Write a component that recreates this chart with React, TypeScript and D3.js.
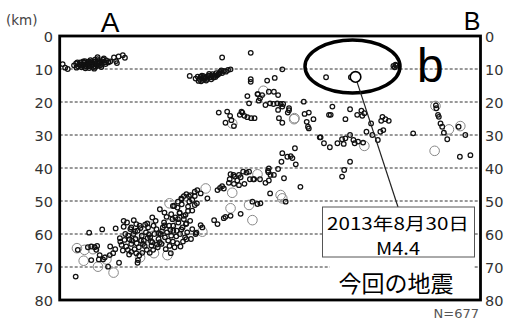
import React from "react";
import * as d3 from "d3";

// depth section A-B, x = distance along profile (0-100), depth in km
const depthTicks = [0, 10, 20, 30, 40, 50, 60, 70, 80];

const smallQuakes: [number, number][] = [
  // shallow cluster near A
  [0.7, 8.5], [1.3, 9.6], [1.9, 10.0],
  [3.4, 8.9], [3.9, 8.3], [4.4, 9.2], [4.9, 8.0], [5.2, 9.5], [5.6, 8.6], [6.0, 7.6], [6.3, 9.1],
  [6.7, 8.2], [7.0, 9.7], [7.3, 7.3], [7.6, 8.7], [8.0, 9.4], [8.3, 7.8], [8.6, 8.5], [9.0, 7.0],
  [9.3, 9.0], [9.6, 7.9], [10.0, 8.4], [10.3, 7.2], [10.7, 8.0], [11.1, 7.4], [11.5, 8.0], [5.8, 8.1],
  [6.5, 8.8], [7.8, 8.1], [8.8, 8.9], [9.8, 8.8], [4.6, 8.6], [7.1, 8.3], [8.2, 9.9], [6.1, 9.8],
  [9.0, 6.4], [10.5, 6.8], [12.0, 7.7], [11.6, 7.9], [5.4, 9.0], [6.9, 9.2], [8.5, 9.3], [9.5, 8.2],
  [4.2, 8.0], [5.0, 8.8], [5.9, 9.3], [6.4, 8.4], [7.4, 9.0], [7.9, 8.6], [8.9, 8.1], [9.2, 7.6],
  [10.1, 7.7], [6.8, 7.8], [7.6, 7.7], [8.4, 7.2], [9.9, 9.4], [10.9, 8.5], [4.0, 9.6], [5.6, 7.7],
  [12.9, 6.5], [13.4, 7.6], [14.0, 6.2], [15.0, 5.8], [15.5, 6.6], [13.6, 8.2],
  // shallow cluster middle
  [30.9, 12.1], [32.3, 12.9], [33.0, 13.6], [33.5, 12.4], [34.0, 13.3], [34.5, 12.6], [35.0, 13.0],
  [35.4, 12.0], [35.9, 12.5], [36.3, 11.6], [36.8, 12.0], [37.2, 11.3], [37.7, 11.6], [38.1, 10.9],
  [38.6, 11.2], [39.0, 10.6], [39.5, 10.8], [40.0, 10.3], [40.6, 10.1], [33.8, 12.0], [34.8, 13.5],
  [36.0, 13.1], [37.0, 12.4], [35.5, 11.5], [38.4, 10.4], [32.8, 12.3], [34.2, 12.2], [36.6, 12.6],
  [33.2, 13.0], [34.4, 13.0], [35.2, 12.4], [36.2, 12.1], [37.4, 11.9], [38.0, 11.3], [33.6, 13.7],
  [38.6, 6.5], [45.4, 5.1], [52.9, 10.1], [49.3, 13.5], [51.1, 12.7], [45.4, 13.1], [45.4, 13.9],
  [63.3, 12.5], [69.2, 12.5], [79.3, 9.1], [79.6, 9.5], [80.0, 9.0], [79.8, 8.7],
  // 15-30 km
  [44.6, 18.2], [47.1, 17.6], [47.0, 17.6], [48.1, 17.9], [47.6, 18.9], [47.3, 19.6], [49.7, 16.9],
  [50.9, 16.9], [51.9, 17.9], [45.0, 20.4], [48.9, 20.9], [50.0, 20.4], [50.8, 20.6], [51.7, 20.4],
  [52.5, 20.6], [52.9, 21.4], [51.9, 22.4], [53.1, 20.6], [54.5, 21.9], [54.5, 22.5], [54.2, 23.2],
  [58.0, 19.9], [58.2, 23.6], [59.2, 23.2], [60.3, 25.2], [58.7, 26.0], [59.0, 27.5], [59.2, 28.0],
  [52.1, 24.9], [52.9, 26.3], [37.8, 23.2], [39.8, 22.9], [40.5, 24.2], [40.8, 25.5], [39.4, 26.3],
  [41.4, 27.3], [42.8, 23.9], [43.4, 23.2], [43.9, 24.2], [44.6, 24.6], [45.5, 24.9], [46.3, 24.9],
  [43.2, 22.9], [64.0, 23.9], [64.8, 21.4], [64.4, 23.9], [69.0, 22.2], [67.9, 25.2], [70.7, 23.9],
  [71.7, 22.6], [71.9, 24.2], [72.4, 23.4], [74.0, 26.5], [72.9, 29.0], [74.3, 30.0], [75.6, 31.5],
  [76.7, 24.5], [76.4, 25.7], [77.4, 25.2], [78.2, 25.7], [76.2, 29.0], [76.9, 28.5], [84.0, 29.5],
  [89.5, 21.9], [89.9, 23.9], [90.1, 24.5], [90.5, 26.5], [90.9, 27.5], [92.1, 31.3], [91.3, 29.3],
  [94.8, 27.5], [96.4, 30.0], [95.1, 36.6], [97.6, 36.1], [89.4, 21.0],
  // 30-45 km
  [61.8, 30.7], [62.0, 30.7], [62.8, 32.5], [64.2, 33.7], [66.0, 32.5], [67.1, 31.3], [67.5, 32.7],
  [67.9, 31.0], [69.0, 30.0], [69.8, 31.5], [70.1, 32.5], [70.9, 32.0], [72.1, 32.3],
  [55.9, 34.0], [52.9, 35.5], [54.1, 36.6], [54.9, 36.4], [55.3, 37.0], [52.7, 38.1], [56.1, 38.9],
  [69.0, 38.1], [67.6, 40.6], [67.1, 42.6], [49.7, 40.1], [49.5, 40.8], [49.6, 41.3], [51.9, 40.3],
  [50.1, 42.1], [50.9, 42.1], [53.3, 43.1], [46.2, 43.4], [47.6, 43.4], [43.6, 41.1], [44.4, 41.4],
  [45.0, 41.1], [42.6, 42.1], [40.6, 41.9], [41.3, 42.1], [41.6, 42.6], [40.4, 43.4], [40.2, 44.5],
  [42.2, 43.8], [41.4, 44.8], [42.6, 45.2], [43.9, 44.8], [43.0, 42.8], [45.2, 43.4], [46.0, 43.4],
  [49.7, 43.8], [48.9, 44.5], [38.6, 45.5], [39.0, 46.2], [37.5, 46.7], [38.1, 46.0], [50.0, 47.7],
  [57.2, 45.7], [45.8, 50.2], [47.0, 50.9], [47.7, 50.7], [53.7, 50.2],
  // 45-60 km
  [32.7, 46.7], [32.1, 48.5], [31.1, 48.2], [35.1, 49.2], [33.5, 47.7], [36.7, 55.8], [37.5, 57.0],
  [39.0, 55.2], [39.4, 54.8], [40.6, 54.5], [43.0, 53.9], [33.5, 57.3], [33.9, 58.0], [32.3, 60.0],
  [31.5, 52.9], [32.1, 51.2], [29.9, 54.2], [26.4, 65.8],
  [28.0, 52.0], [28.5, 53.5], [29.0, 51.0], [29.5, 55.5], [30.0, 57.0], [30.5, 53.0], [31.0, 56.0],
  [31.5, 58.5], [28.2, 56.5], [29.2, 58.0], [30.3, 59.5], [27.5, 55.0], [27.0, 57.5], [28.6, 60.0],
  [29.8, 61.0], [31.2, 61.5], [27.8, 59.0], [26.5, 54.0], [30.8, 50.2], [29.0, 49.5], [27.2, 51.5],
  [23.8, 52.5], [24.9, 53.5], [26.9, 51.5], [28.1, 50.2], [28.9, 49.2], [29.5, 48.5], [30.1, 47.9],
  [30.7, 48.5], [31.5, 49.7], [32.1, 47.2], [32.6, 50.7], [30.5, 51.7], [28.5, 53.7], [29.5, 54.5],
  [28.1, 55.5], [30.1, 56.8], [32.5, 59.6],
  // deep band near A
  [3.8, 72.9], [4.3, 64.8], [6.7, 64.0], [7.5, 63.8], [8.7, 64.8], [8.3, 64.0], [8.9, 63.6],
  [7.5, 67.9], [9.3, 67.7], [10.3, 67.7], [10.7, 67.1], [11.9, 66.4], [12.7, 65.8], [11.5, 69.9],
  [14.1, 68.7], [9.5, 66.4], [7.0, 59.6], [10.1, 58.6], [13.3, 58.3], [15.2, 56.0], [15.2, 57.8],
  [17.6, 55.8], [17.0, 58.0], [18.2, 57.0], [18.6, 67.9], [18.5, 68.7],
  [14.3, 61.3], [14.4, 62.3], [14.7, 63.3], [15.4, 61.8], [15.8, 63.8], [16.6, 61.6], [17.0, 63.0],
  [16.2, 64.8], [17.0, 65.4], [17.8, 64.6], [18.2, 65.8], [18.8, 64.0], [19.6, 65.7], [20.2, 63.6],
  [20.7, 64.8], [21.4, 65.7], [22.2, 64.8], [23.3, 64.0], [24.2, 63.0], [25.2, 64.6], [26.1, 63.6],
  [26.9, 62.3], [27.3, 64.0], [27.9, 62.8], [28.7, 63.8], [29.3, 62.3], [30.1, 61.6],
  [16.0, 56.5], [16.8, 58.5], [17.5, 60.0], [18.0, 61.5], [18.5, 59.0], [19.0, 57.5], [19.5, 60.5],
  [20.0, 62.0], [20.5, 59.5], [21.0, 58.0], [21.5, 61.0], [22.0, 62.5], [22.5, 60.0], [23.0, 58.5],
  [23.5, 61.5], [24.0, 60.0], [24.5, 58.0], [25.0, 61.0], [25.5, 59.5], [26.0, 57.5], [26.5, 60.5],
  [27.0, 59.0], [19.8, 63.0], [21.8, 63.5], [23.8, 62.5], [25.8, 62.0], [18.3, 62.8], [20.8, 56.8],
  [22.8, 56.0], [24.8, 56.5], [26.8, 55.5], [17.2, 62.0], [15.6, 60.0], [21.2, 60.2], [24.3, 59.2],
  [22.3, 57.5], [19.2, 58.2], [25.4, 54.8], [22.0, 55.0], [20.3, 57.2], [23.1, 63.2], [18.9, 66.5],
  [15.0, 65.0], [16.5, 66.2], [13.2, 64.6], [12.0, 63.8], [19.3, 62.0], [21.7, 62.2], [23.6, 59.8],
  [20.9, 61.2], [17.9, 59.2], [16.3, 60.5], [24.9, 57.4], [26.3, 58.7], [27.7, 60.7], [28.9, 58.6],
];

const largeQuakes: [number, number][] = [
  [48.4, 16.6], [55.7, 25.2], [41.0, 26.5], [55.8, 24.9], [72.4, 33.3], [89.3, 21.2], [92.5, 28.3],
  [95.2, 27.3], [89.1, 34.8], [47.0, 41.9], [41.0, 47.5], [34.7, 46.2], [52.5, 48.2], [52.9, 49.2],
  [40.6, 52.2], [45.0, 51.2], [45.8, 55.8], [33.9, 59.3], [4.1, 64.3], [5.9, 64.8], [7.9, 64.6],
  [5.7, 68.1], [9.1, 69.9], [11.1, 67.7], [12.8, 71.7], [19.1, 67.1], [25.6, 66.4], [22.4, 65.8],
  [26.1, 50.7], [18.5, 59.8], [21.6, 57.8], [24.0, 62.0], [26.2, 57.0], [20.0, 61.5],
];

const mainShock: [number, number] = [70.3, 12.4];

const W = 507;
const H = 323;
const plot = { left: 59.7, right: 480.5, top: 36, bottom: 300 };

export default function App() {
  const x = d3.scaleLinear().domain([0, 100]).range([plot.left, plot.right]);
  const y = d3.scaleLinear().domain([0, 80]).range([plot.top, plot.bottom]);

  const tickFont = "'DejaVu Sans', sans-serif";
  const cjkFont = "'Noto Sans CJK JP', sans-serif";
  const ms = [x(mainShock[0]), y(mainShock[1])];

  return (
    <div style={{ position: "fixed", left: 0, top: 0 }}>
      <svg width={W} height={H} style={{ display: "block", background: "#fff" }}>
        {/* gridlines */}
        {depthTicks.slice(1, -1).map(d => (
          <line key={d} x1={plot.left} x2={plot.right} y1={y(d)} y2={y(d)}
            stroke="#333" strokeWidth={1} strokeDasharray="3,2" />
        ))}

        {/* hypocenters */}
        {largeQuakes.map((d, i) => (
          <circle key={"l" + i} cx={x(d[0])} cy={y(d[1])} r={4.8}
            fill="none" stroke="#888" strokeWidth={1} />
        ))}
        {smallQuakes.map((d, i) => (
          <circle key={"s" + i} cx={x(d[0])} cy={y(d[1])} r={2.3}
            fill="none" stroke="#111" strokeWidth={1.25} />
        ))}

        {/* frame */}
        <rect x={plot.left} y={plot.top} width={plot.right - plot.left} height={plot.bottom - plot.top}
          fill="none" stroke="#000" strokeWidth={2.8} />

        {/* tick labels */}
        {depthTicks.map(d => (
          <g key={"t" + d} fontFamily={tickFont} fontSize={14.5} fill="#333">
            <text x={53} y={y(d) + 6} textAnchor="end">{d}</text>
            <text x={485} y={y(d) + 6}>{d}</text>
          </g>
        ))}
        <text x={6} y={25} fontFamily={tickFont} fontSize={13.5} fill="#444">(km)</text>
        <text x={110} y={32} textAnchor="middle" fontFamily="'Liberation Sans', Arial, sans-serif" fontSize={28}>A</text>
        <text x={472} y={30} textAnchor="middle" fontFamily="'Liberation Sans', Arial, sans-serif" fontSize={25}>B</text>
        <text x={479} y={318} textAnchor="end" fontFamily={tickFont} fontSize={13} fill="#555">N=677</text>

        {/* region b */}
        <ellipse cx={352.5} cy={66.5} rx={47.5} ry={26.5} fill="none" stroke="#000" strokeWidth={3.5} />
        <text x={417} y={82} fontFamily="'Liberation Sans', Arial, sans-serif" fontSize={48}>b</text>

        {/* main shock */}
        <line x1={ms[0] + 1.5} y1={ms[1] + 5} x2={398} y2={207} stroke="#222" strokeWidth={1.2} />
        <circle cx={ms[0]} cy={ms[1]} r={5.3} fill="#fff" stroke="#000" strokeWidth={1.6} />

        {/* annotation */}
        <rect x={322.5} y={207} width={152} height={50} fill="#fff" stroke="#555" strokeWidth={1} />
        <text x={398} y={229.5} textAnchor="middle" fontFamily={cjkFont} fontSize={17.5}
          textLength={142} lengthAdjust="spacingAndGlyphs">2013年8月30日</text>
        <text x={398} y={255} textAnchor="middle" fontFamily={cjkFont} fontSize={17.5}
          textLength={44} lengthAdjust="spacingAndGlyphs">M4.4</text>
        <rect x={330} y={261} width={144} height={37} fill="#fff" />
        <text x={396} y={292} textAnchor="middle" fontFamily={cjkFont} fontSize={23}>今回の地震</text>
      </svg>
    </div>
  );
}
